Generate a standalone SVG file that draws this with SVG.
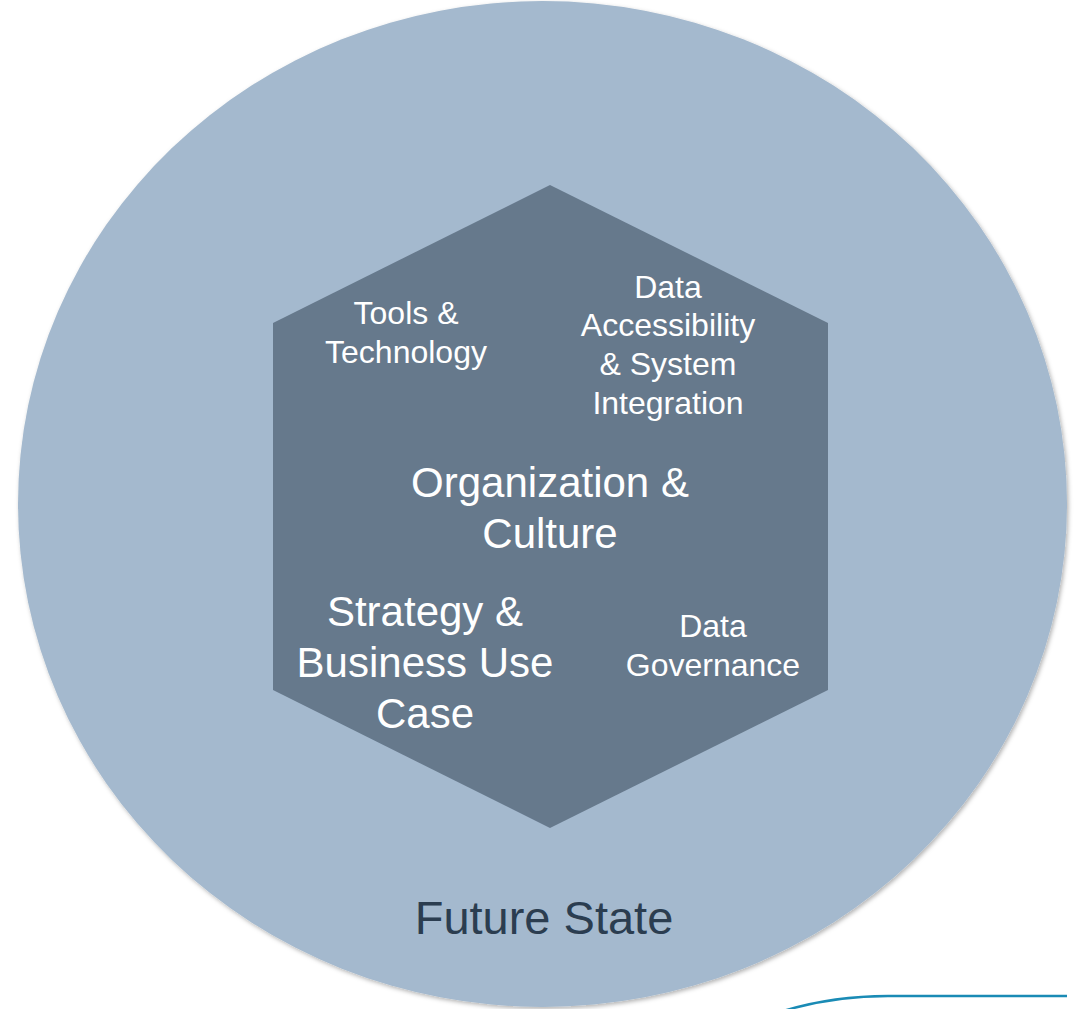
<svg xmlns="http://www.w3.org/2000/svg" width="1077" height="1009" viewBox="0 0 1077 1009">
<style>
.lbl{font-family:"Liberation Sans",Arial,sans-serif;fill:#ffffff;text-anchor:middle}
.sm{font-size:32px}
.lg{font-size:42px}
.fs{font-family:"Liberation Sans",Arial,sans-serif;font-size:47px;fill:#2b3d50;text-anchor:middle}
</style>
<defs>
<filter id="sh" x="-5%" y="-5%" width="110%" height="110%">
<feDropShadow dx="1.5" dy="2" stdDeviation="2" flood-color="#000" flood-opacity="0.3"/>
</filter>
</defs>
<rect width="1077" height="1009" fill="#ffffff"/>
<g id="future-state">
<ellipse cx="542.5" cy="504" rx="524.5" ry="503" fill="#a4b9ce" filter="url(#sh)"/>
<text class="fs" x="544" y="934">Future State</text>
</g>
<g id="hexagon">
<polygon points="550,185 828,323 828,690 550,828 273,690 273,323" fill="#66798c"/>
</g>
<g id="org-culture">
<text class="lbl lg" x="550" y="497">Organization &amp;</text>
<text class="lbl lg" x="550" y="548">Culture</text>
</g>
<g id="tools-tech">
<text class="lbl sm" x="406" y="324">Tools &amp;</text>
<text class="lbl sm" x="406" y="363">Technology</text>
</g>
<g id="data-access">
<text class="lbl sm" x="668" y="298">Data</text>
<text class="lbl sm" x="668" y="336">Accessibility</text>
<text class="lbl sm" x="668" y="375">&amp; System</text>
<text class="lbl sm" x="668" y="414">Integration</text>
</g>
<g id="strategy">
<text class="lbl lg" x="425" y="626">Strategy &amp;</text>
<text class="lbl lg" x="425" y="677">Business Use</text>
<text class="lbl lg" x="425" y="728">Case</text>
</g>
<g id="data-gov">
<text class="lbl sm" x="713" y="637">Data</text>
<text class="lbl sm" x="713" y="676">Governance</text>
</g>
<g id="connectors">
<path d="M780,1012 C815,1001 850,996 888,996 L1067,996" fill="none" stroke="#1a8bb5" stroke-width="2.5"/>
</g>
</svg>
